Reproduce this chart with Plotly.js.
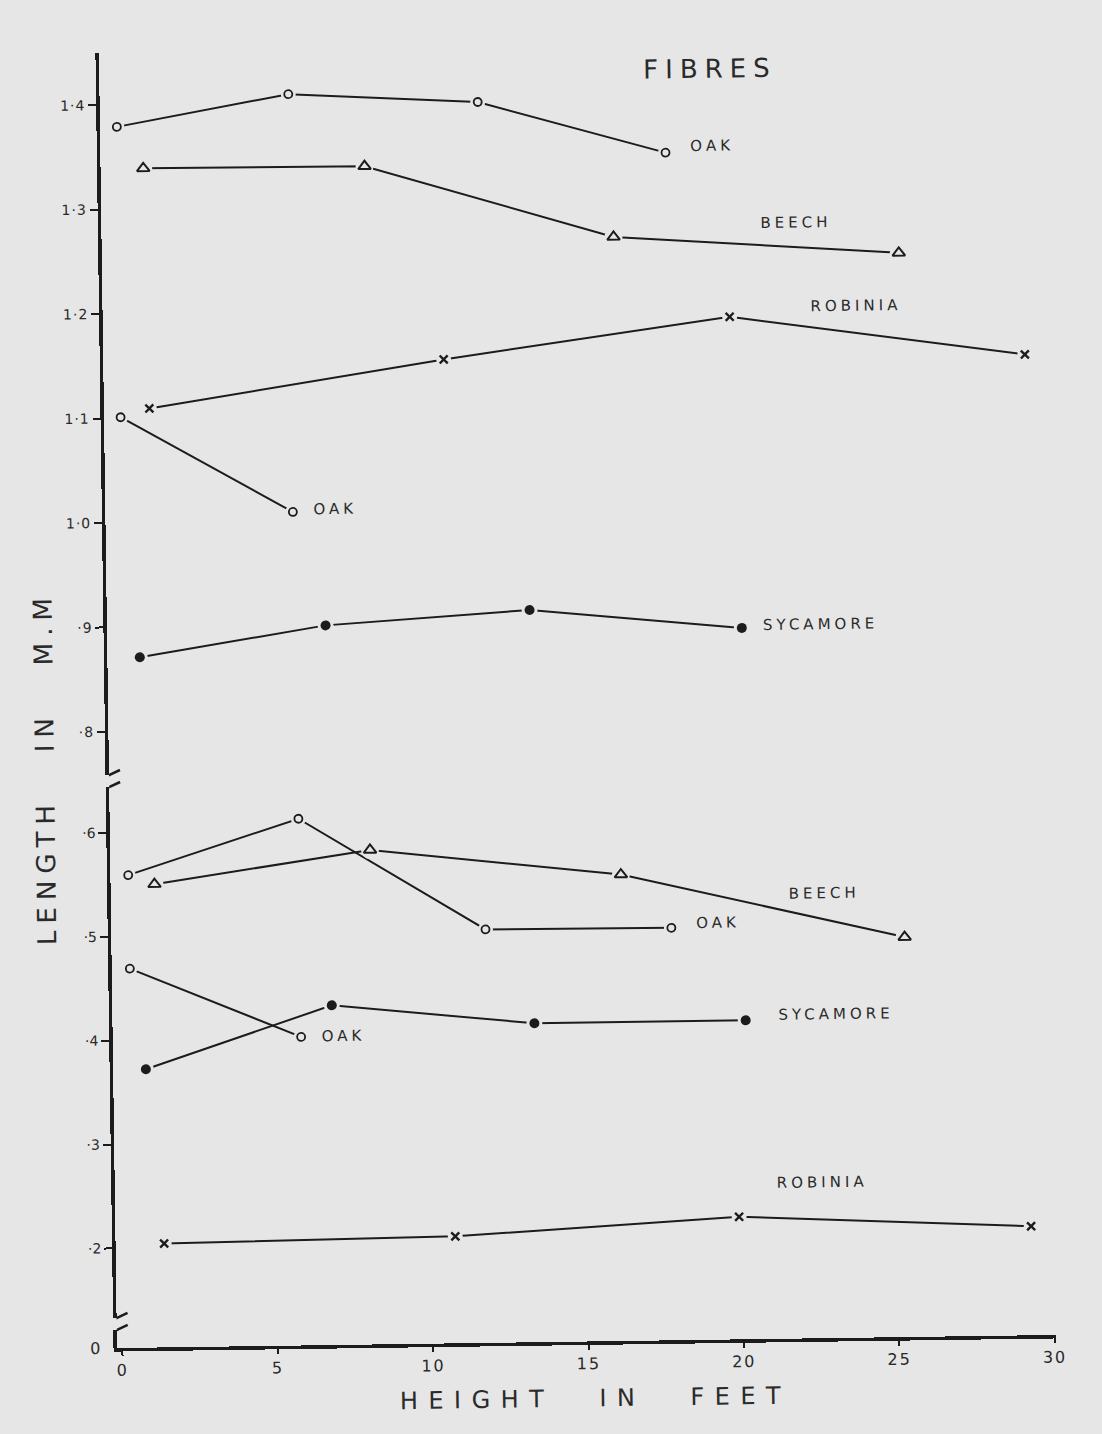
<!DOCTYPE html>
<html>
<head>
<meta charset="utf-8">
<script src="https://cdn.plot.ly/plotly-3.0.1.min.js"></script>
<style>
html,body{margin:0;padding:0;background:#e6e6e6;overflow:hidden;}
#chart{width:1102px;height:1434px;transform:rotate(-0.8deg);transform-origin:122px 1348px;}
.ytick text{letter-spacing:1px;}
.xtick text{letter-spacing:2px;}
</style>
</head>
<body>
<div id="chart"></div>
<script>
// ---------- DATA (height in feet, length in mm) ----------
const fibresOakAX = [0.37, 5.90, 11.99, 18.01];
const fibresOakAY = [1.379, 1.408, 1.398, 1.347];
const fibresBeechX = [1.20, 8.32, 16.30, 25.47];
const fibresBeechY = [1.339, 1.338, 1.267, 1.248];
const fibresRobiniaX = [1.29, 10.78, 20.00, 29.48];
const fibresRobiniaY = [1.109, 1.152, 1.189, 1.149];
const fibresOakBX = [0.36, 5.86];
const fibresOakBY = [1.101, 1.008];
const fibresSycamoreX = [0.87, 6.86, 13.43, 20.25];
const fibresSycamoreY = [0.871, 0.899, 0.911, 0.891];

const vesselOakAX = [0.40, 5.90, 11.87, 17.85];
const vesselOakAY = [0.559, 0.611, 0.502, 0.501];
const vesselBeechX = [1.24, 8.19, 16.25, 25.35];
const vesselBeechY = [0.550, 0.580, 0.553, 0.489];
const vesselOakBX = [0.41, 5.89];
const vesselOakBY = [0.469, 0.401];
const vesselSycamoreX = [0.88, 6.89, 13.40, 20.20];
const vesselSycamoreY = [0.372, 0.431, 0.411, 0.411];
const vesselRobiniaX = [1.39, 10.76, 19.90, 29.29];
const vesselRobiniaY = [0.204, 0.207, 0.222, 0.209];

const xTickVals = [0, 5, 10, 15, 20, 25, 30];
const xTickText = ['0', '5', '10', '15', '20', '25', '30'];
const upperTickVals = [0.8, 0.9, 1.0, 1.1, 1.2, 1.3, 1.4];
const upperTickText = ['·8', '·9', '1·0', '1·1', '1·2', '1·3', '1·4'];
const lowerTickVals = [0.2, 0.3, 0.4, 0.5, 0.6];
const lowerTickText = ['·2', '·3', '·4', '·5', '·6'];
const zeroTickVals = [0];
const zeroTickText = ['0'];

const sectionTitles = ['FIBRES', 'VESSEL - ELEMENTS'];
const speciesNames = ['OAK', 'BEECH', 'ROBINIA', 'SYCAMORE'];
const xTitle = 'HEIGHT\u2002\u2002IN\u2002\u2002FEET';
const yTitle = 'LENGTH\u00a0\u00a0\u00a0IN\u00a0\u00a0\u00a0M.M';

// ---------- GEOMETRY (layout only) ----------
const BG = '#e6e6e6';
const INK = '#1c1c1c';
const TXT = '#2a2a2a';
const FONT = 'DejaVu Sans, Liberation Sans, sans-serif';
const plotLeft = 117, plotRight = 1056, plotTop = 53, plotBottom = 1348;
const plotH = plotBottom - plotTop;
const plotW = plotRight - plotLeft;
const pxPerFt = 31.08, xZeroPx = 122.4;
const xMin = (plotLeft - xZeroPx) / pxPerFt;
const xMax = xMin + plotW / pxPerFt;
// upper axis: 1044.5 px per mm, 0.8 at 616.3 px above bottom
const upScale = 1044.5, upRefV = 0.8, upRefPx = 616.3;
// lower axis: 1039 px per mm, 0.2 at 99.7 px above bottom
const loScale = 1039, loRefV = 0.2, loRefPx = 99.7;
const upDomPx = [573, plotH];
const loDomPx = [30, 561];
const botDomPx = [0, 18];
const vUp = p => upRefV + (p - upRefPx) / upScale;
const vLo = p => loRefV + (p - loRefPx) / loScale;

// ---------- TRACES ----------
const styles = {
  OAK: {symbol: 'circle-open', size: 8, lw: 1.8, mask: 15},
  BEECH: {symbol: 'triangle-up-open', size: 11, lw: 2, mask: 18},
  ROBINIA: {symbol: 'x-thin-open', size: 8, lw: 2.4, mask: 15},
  SYCAMORE: {symbol: 'circle', size: 10, lw: 0, mask: 16}
};
const series = [
  ['OAK', fibresOakAX, fibresOakAY, 'y'],
  ['BEECH', fibresBeechX, fibresBeechY, 'y'],
  ['ROBINIA', fibresRobiniaX, fibresRobiniaY, 'y'],
  ['OAK', fibresOakBX, fibresOakBY, 'y'],
  ['SYCAMORE', fibresSycamoreX, fibresSycamoreY, 'y'],
  ['OAK', vesselOakAX, vesselOakAY, 'y2'],
  ['BEECH', vesselBeechX, vesselBeechY, 'y2'],
  ['OAK', vesselOakBX, vesselOakBY, 'y2'],
  ['SYCAMORE', vesselSycamoreX, vesselSycamoreY, 'y2'],
  ['ROBINIA', vesselRobiniaX, vesselRobiniaY, 'y2']
];
const lineTraces = [], maskTraces = [], markTraces = [];
series.forEach(([name, xs, ys, ya]) => {
  const st = styles[name];
  lineTraces.push({x: xs, y: ys, yaxis: ya, type: 'scatter', mode: 'lines', name: name,
    line: {color: INK, width: 2}, hoverinfo: 'skip', showlegend: false, cliponaxis: false});
  maskTraces.push({x: xs, y: ys, yaxis: ya, type: 'scatter', mode: 'markers', name: name,
    marker: {symbol: 'circle', size: st.mask, color: BG, line: {width: 0}},
    hoverinfo: 'skip', showlegend: false, cliponaxis: false});
  markTraces.push({x: xs, y: ys, yaxis: ya, type: 'scatter', mode: 'markers', name: name,
    marker: {symbol: st.symbol, size: st.size, color: INK, line: {width: st.lw, color: INK}},
    showlegend: false, cliponaxis: false});
});
// empty trace so the short bottom segment of the broken axis (with its "0") exists
const zeroAxisTrace = {x: [], y: [], yaxis: 'y3', type: 'scatter', mode: 'markers', showlegend: false, hoverinfo: 'skip'};

// ---------- ANNOTATIONS ----------
const sp = (t, s) => '<span style="letter-spacing:' + s + 'px">' + t + '</span>';
const lab = (text, x, y, yref) => ({text: sp(text, 4), x: x, y: y, xref: 'x', yref: yref,
  xanchor: 'left', yanchor: 'middle', showarrow: false, font: {family: FONT, size: 15, color: TXT}});
const annotations = [
  {text: sp(sectionTitles[0], 7), x: 19.48, y: 1.427, xref: 'x', yref: 'y', xanchor: 'center', yanchor: 'middle',
    showarrow: false, font: {family: FONT, size: 26, color: TXT}},
  {text: sp(sectionTitles[1], 4.5), x: 18.9, y: 0.648, xref: 'x', yref: 'y2', xanchor: 'center', yanchor: 'middle',
    showarrow: false, font: {family: FONT, size: 26, color: TXT}},
  lab(speciesNames[0], 18.74, 1.353, 'y'),
  lab(speciesNames[1], 20.98, 1.278, 'y'),
  lab(speciesNames[2], 22.54, 1.198, 'y'),
  lab(speciesNames[0], 6.44, 1.010, 'y'),
  lab(speciesNames[3], 20.86, 0.894, 'y'),
  lab(speciesNames[0], 18.59, 0.505, 'y2'),
  lab(speciesNames[1], 21.59, 0.532, 'y2'),
  lab(speciesNames[0], 6.50, 0.4016, 'y2'),
  lab(speciesNames[3], 21.2, 0.4157, 'y2'),
  lab(speciesNames[2], 21.07, 0.2538, 'y2'),
  {text: sp(yTitle, 7), xref: 'paper', yref: 'paper', x: (53 - plotLeft) / plotW, y: (plotBottom - 767) / plotH,
    xanchor: 'center', yanchor: 'middle', textangle: -90, showarrow: false,
    font: {family: FONT, size: 26, color: TXT}},
  {text: sp(xTitle, 10.5), xref: 'paper', yref: 'paper', x: (594 - plotLeft) / plotW, y: (plotBottom - 1405) / plotH,
    xanchor: 'center', yanchor: 'middle', showarrow: false,
    font: {family: FONT, size: 24, color: TXT}}
];

// ---------- AXIS BREAK MARKS ----------
const brk = (domPx) => ({type: 'line', xref: 'x', yref: 'paper', xsizemode: 'pixel', ysizemode: 'pixel',
  xanchor: xMin, yanchor: domPx / plotH, x0: -11, x1: 11, y0: -5, y1: 5,
  line: {color: INK, width: 2.6}});
const shapes = [brk(upDomPx[0]), brk(loDomPx[1]), brk(loDomPx[0]), brk(botDomPx[1])];

const axisCommon = {showgrid: false, zeroline: false, showline: true, linecolor: INK, linewidth: 3.5,
  ticks: 'outside', ticklen: 8, tickwidth: 2, tickcolor: INK,
  tickfont: {family: FONT, size: 14, color: TXT}, fixedrange: true};

const layout = {
  width: 1102, height: 1434,
  paper_bgcolor: BG, plot_bgcolor: BG,
  margin: {l: plotLeft, r: 1102 - plotRight, t: plotTop, b: 1434 - plotBottom, pad: 0},
  showlegend: false,
  xaxis: Object.assign({}, axisCommon, {range: [xMin, xMax], anchor: 'y3', tickvals: xTickVals, ticktext: xTickText,
    ticklen: 5, tickfont: {family: FONT, size: 16, color: TXT}}),
  yaxis: Object.assign({}, axisCommon, {domain: [upDomPx[0] / plotH, upDomPx[1] / plotH],
    range: [vUp(upDomPx[0]), vUp(upDomPx[1])], anchor: 'x', tickvals: upperTickVals, ticktext: upperTickText}),
  yaxis2: Object.assign({}, axisCommon, {domain: [loDomPx[0] / plotH, loDomPx[1] / plotH],
    range: [vLo(loDomPx[0]), vLo(loDomPx[1])], anchor: 'x', tickvals: lowerTickVals, ticktext: lowerTickText}),
  yaxis3: Object.assign({}, axisCommon, {domain: [botDomPx[0] / plotH, botDomPx[1] / plotH],
    range: [0, botDomPx[1] / loScale], anchor: 'x', tickvals: zeroTickVals, ticktext: zeroTickText, ticks: '',
    ticklabelstandoff: 10, tickfont: {family: FONT, size: 16, color: TXT}}),
  annotations: annotations,
  shapes: shapes
};

Plotly.newPlot('chart', lineTraces.concat(maskTraces, markTraces, [zeroAxisTrace]), layout,
  {displayModeBar: false, staticPlot: true});
</script>
</body>
</html>
